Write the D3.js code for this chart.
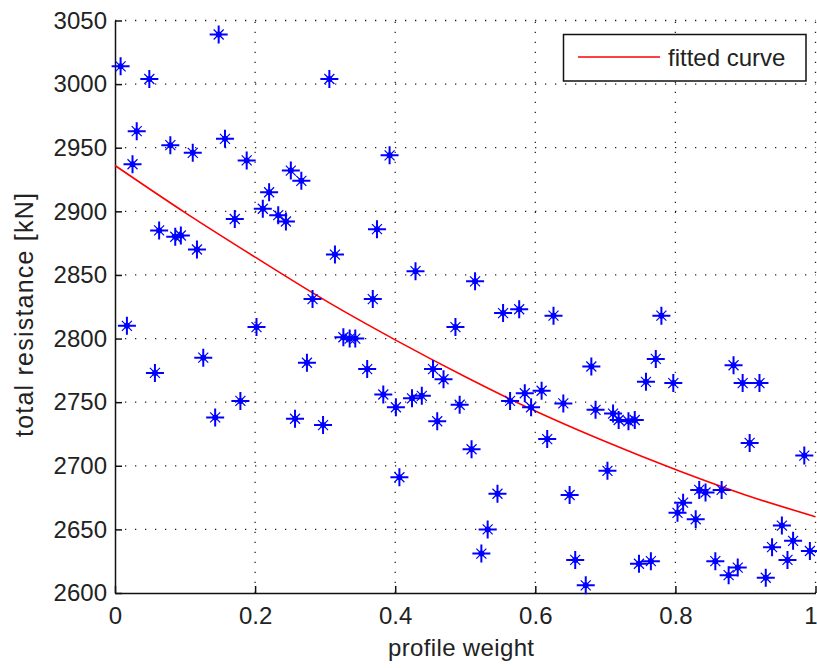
<!DOCTYPE html>
<html>
<head>
<meta charset="utf-8">
<script src="https://cdn.jsdelivr.net/npm/d3@7/dist/d3.min.js"></script>
<style>
  html, body { margin: 0; padding: 0; background: #fff; }
  svg { display: block; }
  text { font-family: "Liberation Sans", Arial, sans-serif; fill: #222; }
</style>
</head>
<body>
<svg id="chart" width="817" height="668"></svg>
<script>
// Measured samples: profile weight vs. total resistance [kN]
const weights = [
  0.008, 0.049, 0.148, 0.306, 0.031, 0.025, 0.079, 0.111, 0.157, 0.188, 0.251, 0.266, 0.220, 0.211, 0.233, 0.244, 0.171, 0.392,
  0.063, 0.086, 0.094, 0.117, 0.314, 0.282, 0.017, 0.202, 0.126, 0.274, 0.057, 0.179, 0.143, 0.257, 0.297,
  0.374, 0.429, 0.514, 0.368, 0.554, 0.577, 0.626, 0.486, 0.326, 0.335, 0.343, 0.360, 0.454, 0.469, 0.383, 0.401, 0.424, 0.438, 0.492, 0.460, 0.564, 0.585, 0.594, 0.609, 0.640,
  0.780, 0.680, 0.772, 0.758, 0.797, 0.883, 0.896, 0.920, 0.686, 0.711, 0.719, 0.733, 0.742,
  0.509, 0.617, 0.406, 0.546, 0.532, 0.523, 0.649, 0.657,
  0.906, 0.984, 0.703, 0.834, 0.843, 0.866, 0.811, 0.803, 0.829, 0.952, 0.938, 0.968, 0.992, 0.960, 0.929, 0.857, 0.889, 0.876, 0.748, 0.765, 0.672
];
const resistances = [
  3014, 3004, 3039, 3004, 2963, 2937, 2952, 2946, 2957, 2940, 2932, 2924, 2915, 2902, 2897, 2892, 2894, 2944,
  2885, 2880, 2881, 2870, 2866, 2831, 2810, 2809, 2785, 2781, 2773, 2751, 2738, 2737, 2732,
  2886, 2853, 2845, 2831, 2820, 2823, 2818, 2809, 2801, 2800, 2800, 2776, 2776, 2768, 2756, 2746, 2753, 2755, 2748, 2735, 2751, 2757, 2746, 2759, 2749,
  2818, 2778, 2784, 2766, 2765, 2779, 2765, 2765, 2744, 2741, 2736, 2735, 2736,
  2713, 2721, 2691, 2678, 2650, 2631, 2677, 2626,
  2718, 2708, 2696, 2681, 2679, 2681, 2671, 2663, 2658, 2653, 2636, 2641, 2633, 2626, 2612, 2625, 2620, 2614, 2623, 2625, 2606
];

// Fitted curve, sampled along the weight axis
const fitWeights = [0, 0.1, 0.2, 0.3, 0.4, 0.5, 0.6, 0.7, 0.8, 0.9, 1.0];
const fitResistances = [2936, 2899, 2864, 2830, 2799, 2770, 2743, 2719, 2697, 2677, 2660];

const xTicks = [0, 0.2, 0.4, 0.6, 0.8, 1];
const yTicks = [2600, 2650, 2700, 2750, 2800, 2850, 2900, 2950, 3000, 3050];

const legendLabel = "fitted curve";
const xLabel = "profile weight";
const yLabel = "total resistance [kN]";

const svg = d3.select("#chart");
const plotLeft = 115, plotRight = 815.5, plotTop = 20.5, plotBottom = 593;

const x = d3.scaleLinear().domain([0, 1]).range([plotLeft, plotRight]);
const y = d3.scaleLinear().domain([2600, 3050]).range([plotBottom, plotTop]);

// Dotted grid
const grid = svg.append("g").attr("stroke", "#222").attr("stroke-width", 1.3)
  .attr("stroke-dasharray", "1.3,8.7");
grid.selectAll("line.gx").data(xTicks.filter(d => d > 0)).join("line")
  .attr("x1", d => x(d)).attr("x2", d => x(d))
  .attr("y1", plotBottom).attr("y2", plotTop);
grid.selectAll("line.gy").data(yTicks.filter(d => d > 2600)).join("line")
  .attr("y1", d => y(d)).attr("y2", d => y(d))
  .attr("x1", plotLeft).attr("x2", plotRight);

// Axes with inward ticks
const fmtX = d => (d === 0 || d === 1) ? String(d) : d3.format(".1f")(d);
const xAxis = d3.axisBottom(x).tickValues(xTicks).tickFormat(fmtX).tickSizeInner(-7).tickSizeOuter(0).tickPadding(14);
const yAxis = d3.axisLeft(y).tickValues(yTicks).tickFormat(d3.format("d")).tickSizeInner(-7).tickSizeOuter(0).tickPadding(8);

const gx = svg.append("g").attr("transform", `translate(0,${plotBottom})`).call(xAxis);
const gy = svg.append("g").attr("transform", `translate(${plotLeft},0)`).call(yAxis);
[gx, gy].forEach(g => {
  g.select(".domain").attr("stroke", "#111").attr("stroke-width", 1.5);
  g.selectAll(".tick line").attr("stroke", "#111").attr("stroke-width", 1.5);
  g.selectAll(".tick text").attr("font-size", 24).attr("fill", "#222")
    .style("font-family", '"Liberation Sans", Arial, sans-serif');
});
// Keep the last x label inside the page edge
gx.selectAll(".tick text").filter(d => d === 1).attr("text-anchor", "end").attr("x", 1.5);

// Fitted curve
const line = d3.line().x((d, i) => x(fitWeights[i])).y(d => y(d)).curve(d3.curveMonotoneX);
svg.append("path").datum(fitResistances)
  .attr("d", line).attr("fill", "none").attr("stroke", "#ff0000").attr("stroke-width", 1.6);

// Star markers
const pts = weights.map((w, i) => [w, resistances[i]]);
const stars = svg.append("g").selectAll("g").data(pts).join("g")
  .attr("transform", d => `translate(${x(d[0])},${y(d[1])})`);
stars.append("path").attr("d", "M-9,0H9M0,-9V9")
  .attr("stroke", "#0000ff").attr("stroke-width", 2).attr("fill", "none");
stars.append("path").attr("d", "M-5,-5L5,5M-5,5L5,-5")
  .attr("stroke", "#0000ff").attr("stroke-width", 1.2).attr("fill", "none");
stars.append("circle").attr("r", 3).attr("fill", "#0000ff");

// Legend
const lg = svg.append("g");
lg.append("rect").attr("x", 563.5).attr("y", 34.5).attr("width", 242.5).attr("height", 46.5)
  .attr("fill", "#fff").attr("stroke", "#111").attr("stroke-width", 1.5);
lg.append("line").attr("x1", 578).attr("x2", 660).attr("y1", 57).attr("y2", 57)
  .attr("stroke", "#ff0000").attr("stroke-width", 1.6);
lg.append("text").attr("x", 668).attr("y", 66).attr("font-size", 24).text(legendLabel);

// Axis titles
svg.append("text").attr("x", 461).attr("y", 656)
  .attr("text-anchor", "middle").attr("font-size", 24)
  .attr("textLength", 146).attr("lengthAdjust", "spacing").text(xLabel);
svg.append("text").attr("transform", `translate(33,315) rotate(-90)`)
  .attr("text-anchor", "middle").attr("font-size", 25)
  .attr("textLength", 244).attr("lengthAdjust", "spacing").text(yLabel);
</script>
</body>
</html>
